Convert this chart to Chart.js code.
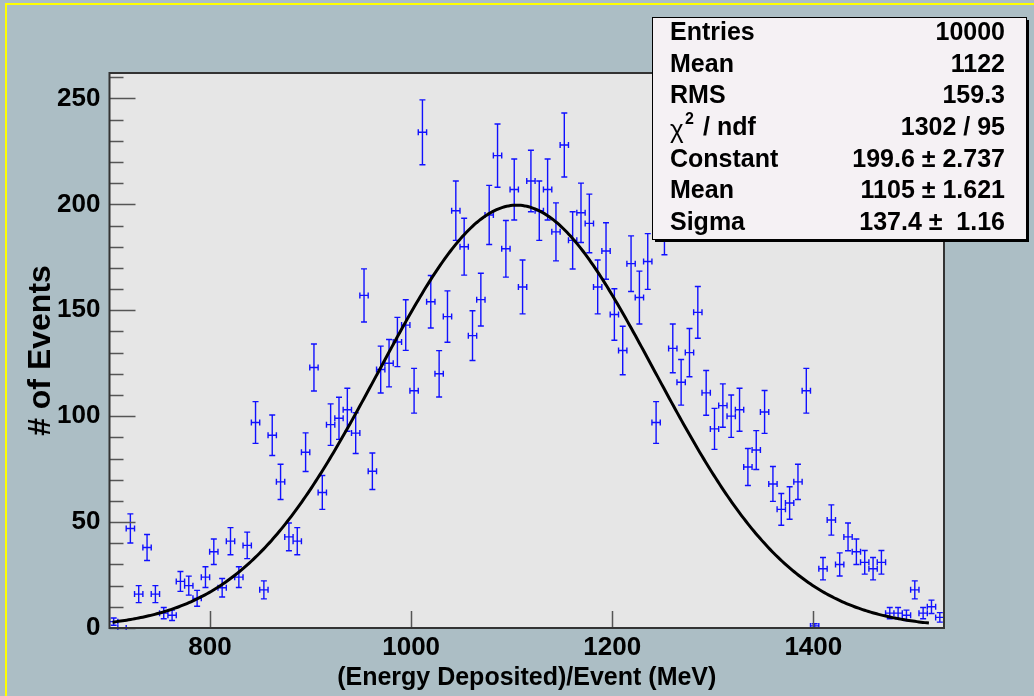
<!DOCTYPE html>
<html>
<head>
<meta charset="utf-8">
<script src="https://cdn.jsdelivr.net/npm/chart.js@4/dist/chart.umd.min.js"></script>
<style>
  body { margin: 0; background: #acbec5; }
  #wrap { width: 1034px; height: 696px; }
</style>
</head>
<body>
<div id="wrap"><canvas id="energyChart" width="1034" height="696"></canvas></div>
<script>
// histogram binning
const histMin = 700;
const histMax = 1530;
const nBins = 100;

// counts per bin
const counts = [
  3, 0, 47, 16, 38, 16, 7, 6, 22, 20,
  14, 24, 36, 19, 41, 24, 39, 97, 18, 91,
  69, 43, 41, 83, 123, 64, 96, 99, 103, 92,
  157, 74, 122, 125, 135, 143, 112, 234, 154, 120,
  147, 197, 180, 138, 155, 195, 223, 179, 207, 161,
  211, 197, 207, 187, 228, 183, 196, 191, 161, 178,
  148, 131, 172, 156, 173, 97, 190, 132, 116, 130,
  149, 111, 94, 105, 100, 103, 76, 84, 102, 68,
  56, 59, 69, 112, 1, 28, 51, 30, 43, 36,
  31, 28, 31, 7, 7, 6, 18, 7, 10, 5
];

const xTicks = [800, 1000, 1200, 1400];
const yTicks = [0, 50, 100, 150, 200, 250];
const yMax = 262;

// gaussian fit result (from stats box)
const fitConstant = 199.6;
const fitMean = 1105;
const fitSigma = 137.4;
const fitFrom = 703;
const fitTo = 1515;

const statsRows = [
  ['Entries', '10000'],
  ['Mean', '1122'],
  ['RMS', '159.3'],
  ['chi2', '1302 / 95'],
  ['Constant', '199.6 \u00b1 2.737'],
  ['Mean', '1105 \u00b1 1.621'],
  ['Sigma', '137.4 \u00b1  1.16']
];

const binWidth = (histMax - histMin) / nBins;
const histPoints = counts.map((c, i) => ({
  x: histMin + binWidth * (i + 0.5),
  y: c,
  err: Math.sqrt(c)
}));

const fitPoints = [];
for (let e = fitFrom; e <= fitTo; e += 2) {
  const u = (e - fitMean) / fitSigma;
  fitPoints.push({ x: e, y: fitConstant * Math.exp(-0.5 * u * u) });
}

const FONT = '"Liberation Sans", Arial, sans-serif';

// frame, errors, ticks, stats box
const rootStyle = {
  id: 'rootStyle',
  beforeDraw(chart) {
    const ctx = chart.ctx;
    const a = chart.chartArea;
    ctx.save();
    ctx.fillStyle = '#acbec5';
    ctx.fillRect(0, 0, chart.width, chart.height);
    ctx.strokeStyle = '#ffff00';
    ctx.lineWidth = 2;
    ctx.beginPath();
    ctx.moveTo(5, 4); ctx.lineTo(chart.width, 4);
    ctx.moveTo(6, 4); ctx.lineTo(6, chart.height);
    ctx.stroke();
    ctx.fillStyle = '#e6e6e6';
    ctx.fillRect(a.left, a.top, a.right - a.left, a.bottom - a.top);
    ctx.restore();
  },
  beforeDatasetsDraw(chart) {
    const ctx = chart.ctx;
    const xs = chart.scales.x, ys = chart.scales.y;
    const a = chart.chartArea;
    ctx.save();
    ctx.beginPath();
    ctx.rect(a.left, a.top - 2, a.right - a.left, a.bottom - a.top + 4);
    ctx.clip();
    ctx.strokeStyle = '#1010ff';
    ctx.lineWidth = 1.4;
    ctx.beginPath();
    histPoints.forEach(p => {
      const px = xs.getPixelForValue(p.x);
      const py = ys.getPixelForValue(p.y);
      const x0 = xs.getPixelForValue(p.x - binWidth / 2);
      const x1 = xs.getPixelForValue(p.x + binWidth / 2);
      ctx.moveTo(x0, py); ctx.lineTo(x1, py);
      ctx.moveTo(x0, py - 3); ctx.lineTo(x0, py + 3);
      ctx.moveTo(x1, py - 3); ctx.lineTo(x1, py + 3);
      if (p.err > 0) {
        const yt = ys.getPixelForValue(p.y + p.err);
        const yb = ys.getPixelForValue(p.y - p.err);
        ctx.moveTo(px, yt); ctx.lineTo(px, yb);
        ctx.moveTo(px - 3, yt); ctx.lineTo(px + 3, yt);
        ctx.moveTo(px - 3, yb); ctx.lineTo(px + 3, yb);
      }
    });
    ctx.stroke();
    ctx.restore();
  },
  afterDatasetsDraw(chart) {
    const ctx = chart.ctx;
    const xs = chart.scales.x, ys = chart.scales.y;
    const a = chart.chartArea;
    ctx.save();
    ctx.strokeStyle = '#555555';
    ctx.lineWidth = 1.5;
    ctx.beginPath();
    for (let v = 0; v <= yMax; v += 10) {
      const py = Math.round(ys.getPixelForValue(v)) + 0.5;
      const len = v % 50 === 0 ? 26 : 14;
      ctx.moveTo(a.left, py); ctx.lineTo(a.left + len, py);
    }
    xTicks.forEach(v => {
      const px = Math.round(xs.getPixelForValue(v)) + 0.5;
      ctx.moveTo(px, a.bottom); ctx.lineTo(px, a.bottom - 17);
    });
    ctx.stroke();
    ctx.strokeStyle = '#333333';
    ctx.lineWidth = 2;
    ctx.strokeRect(a.left, a.top, a.right - a.left, a.bottom - a.top);
    ctx.restore();
  },
  afterDraw(chart) {
    const ctx = chart.ctx;
    const bx = 652, by = 17, bw = 374, bh = 222;
    ctx.save();
    ctx.fillStyle = '#000000';
    ctx.fillRect(bx + 3, by + 3, bw, bh);
    ctx.fillStyle = '#f5f1f4';
    ctx.fillRect(bx, by, bw, bh);
    ctx.strokeStyle = '#000000';
    ctx.lineWidth = 1;
    ctx.strokeRect(bx + 0.5, by + 0.5, bw, bh);
    ctx.fillStyle = '#000000';
    ctx.textBaseline = 'middle';
    statsRows.forEach((r, i) => {
      const yy = 33 + i * 31.7;
      if (r[0] === 'chi2') {
        ctx.textAlign = 'left';
        ctx.font = '26px ' + FONT;
        ctx.fillText('\u03c7', 670, yy + 3);
        ctx.font = 'bold 16px ' + FONT;
        ctx.fillText('2', 685, yy - 9);
        ctx.font = 'bold 25px ' + FONT;
        ctx.fillText('/ ndf', 703, yy);
      } else {
        ctx.textAlign = 'left';
        ctx.font = 'bold 25px ' + FONT;
        ctx.fillText(r[0], 670, yy);
      }
      ctx.textAlign = 'right';
      ctx.font = 'bold 25px ' + FONT;
      ctx.fillText(r[1], 1005, yy);
    });
    ctx.restore();
  }
};

const ctx = document.getElementById('energyChart').getContext('2d');
const energyChart = new Chart(ctx, {
  type: 'scatter',
  data: {
    datasets: [
      {
        label: 'Events',
        data: histPoints,
        pointRadius: 0,
        showLine: false
      },
      {
        label: 'Gaussian fit',
        type: 'line',
        data: fitPoints,
        borderColor: '#000000',
        borderWidth: 3,
        pointRadius: 0,
        tension: 0,
        fill: false
      }
    ]
  },
  options: {
    responsive: false,
    animation: false,
    events: [],
    layout: { padding: { left: 0, right: 90, top: 73, bottom: 0 } },
    plugins: {
      legend: { display: false },
      tooltip: { enabled: false }
    },
    scales: {
      x: {
        type: 'linear',
        min: histMin,
        max: histMax,
        afterBuildTicks(s) { s.ticks = xTicks.map(v => ({ value: v })); },
        afterFit(s) { s.height = 68; },
        grid: { display: false, drawTicks: false },
        border: { display: false },
        ticks: {
          color: '#000',
          padding: 4,
          maxRotation: 0,
          callback: v => String(v),
          font: { family: FONT, size: 26, weight: 'bold' }
        },
        title: {
          display: true,
          text: '(Energy Deposited)/Event (MeV)',
          color: '#000',
          padding: { top: 0, bottom: 3 },
          font: { family: FONT, size: 25, weight: 'bold' }
        }
      },
      y: {
        type: 'linear',
        min: 0,
        max: yMax,
        afterBuildTicks(s) { s.ticks = yTicks.map(v => ({ value: v })); },
        afterFit(s) { s.width = 109.5; },
        grid: { display: false, drawTicks: false },
        border: { display: false },
        ticks: {
          color: '#000',
          padding: 9,
          callback: v => String(v),
          font: { family: FONT, size: 26, weight: 'bold' }
        },
        title: {
          display: true,
          text: '# of Events',
          color: '#000',
          padding: { top: 22, bottom: 0 },
          font: { family: FONT, size: 32, weight: 'bold' }
        }
      }
    }
  },
  plugins: [rootStyle]
});
</script>
</body>
</html>
